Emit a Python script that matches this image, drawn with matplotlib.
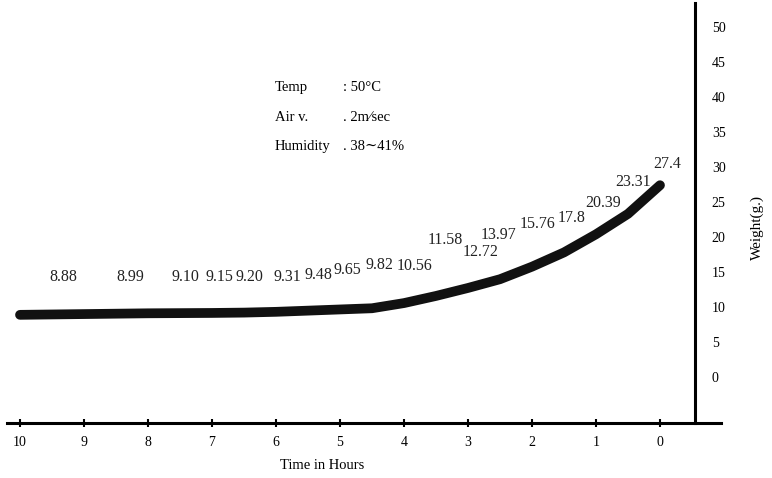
import matplotlib
matplotlib.use("Agg")
import matplotlib.pyplot as plt

# Data: drying curve, weight (g) against time in hours
hours = [0, 0.5, 1, 1.5, 2, 2.5, 3, 3.5, 4, 4.5, 5, 5.5, 6, 6.5, 7, 8, 9, 10]
weight = [27.4, 23.31, 20.39, 17.8, 15.76, 13.97, 12.72, 11.58, 10.56,
          9.82, 9.65, 9.48, 9.31, 9.20, 9.15, 9.10, 8.99, 8.88]
weight_text = ["27.4", "23.31", "20.39", "17.8", "15.76", "13.97", "12.72",
               "11.58", "10.56", "9.82", "9.65", "9.48", "9.31", "9.20",
               "9.15", "9.10", "8.99", "8.88"]

x_ticks = list(range(0, 11))
y_ticks = list(range(0, 55, 5))

conditions = [("Temp", ": 50\u00b0C"),
              ("Air v.", ". 2m\u2215sec"),
              ("Humidity", ". 38\u223c41%")]

# Where the value labels sit (hours, weight units), same order as weight
label_x = [-0.12, 0.42, 0.89, 1.38, 1.92, 2.53, 2.81, 3.36, 3.83,
           4.38, 4.88, 5.34, 5.83, 6.41, 6.88, 7.42, 8.28, 9.33]
label_y = [30.4, 27.9, 24.9, 22.7, 21.9, 20.3, 17.9, 19.6, 15.9,
           16.0, 15.3, 14.6, 14.3, 14.3, 14.3, 14.3, 14.3, 14.3]

# serif first, DejaVu Serif for signs it lacks
serif = ["Liberation Serif", "DejaVu Serif"]

fig = plt.figure(figsize=(7.72, 4.78), dpi=100)
ax = fig.add_axes([0, 0, 1, 1])
ax.set_xlim(10.3125, -1.75)
ax.set_ylim(-14.43, 53.86)

# Curve
ax.plot(hours, weight, color="#111111", lw=7, solid_capstyle="round",
        solid_joinstyle="round", zorder=3)

# Value labels
for tx, lx, ly in zip(weight_text, label_x, label_y):
    ax.text(lx, ly, tx, ha="center", va="center", fontsize=11.5,
            family=serif, color="#222222")

# Test conditions
for i, (name, val) in enumerate(conditions):
    y = 41.3 - i * 4.2
    ax.text(6.02, y, name, ha="left", va="center", fontsize=10.5, family=serif)
    ax.text(4.95, y, val, ha="left", va="center", fontsize=10.5, family=serif)

# Axes: bottom time axis and right weight axis
ax.spines["top"].set_visible(False)
ax.spines["left"].set_visible(False)
ax.spines["bottom"].set_position(("data", -6.6))
ax.spines["bottom"].set_bounds(-0.95, 10.2)
ax.spines["bottom"].set_linewidth(2.2)
ax.spines["right"].set_position(("data", -0.55))
ax.spines["right"].set_bounds(-6.6, 53.5)
ax.spines["right"].set_linewidth(2.2)

ax.set_xticks(x_ticks)
ax.set_xticklabels([str(v) for v in x_ticks], family=serif, fontsize=10)
ax.tick_params(axis="x", direction="inout", length=6, width=1.5, pad=6)

ax.yaxis.tick_right()
ax.set_yticks(y_ticks)
ax.set_yticklabels([str(v) for v in y_ticks], family=serif, fontsize=10)
ax.tick_params(axis="y", length=0, pad=12)

ax.text(5.28, -12.7, "Time in Hours", ha="center", va="center",
        fontsize=10.5, family=serif)
ax.text(-1.52, 21.4, "Weight(g.)", ha="center", va="center", rotation=90,
        fontsize=11, family=serif)

fig.savefig("out.png", dpi=100)
